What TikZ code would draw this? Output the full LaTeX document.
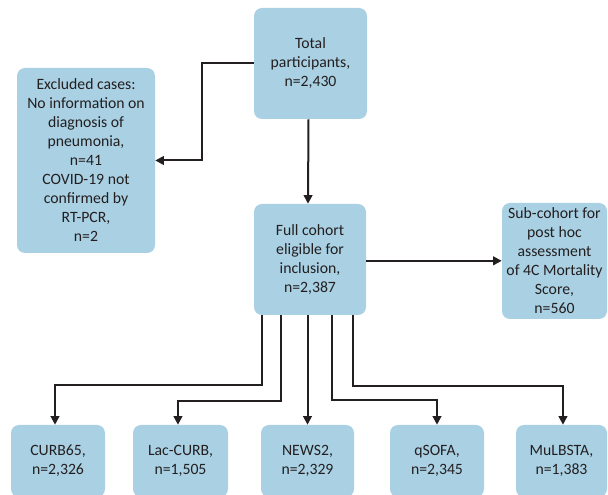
\documentclass[tikz,border=0pt]{standalone}
\usepackage{fontspec}
\setmainfont{Carlito}
\usetikzlibrary{arrows.meta,calc}
\definecolor{boxblue}{RGB}{169,208,227}
\definecolor{ink}{RGB}{35,31,32}
\begin{document}
\begin{tikzpicture}[x=0.75pt,y=-0.75pt,
  box/.style={fill=boxblue,draw=none,rounded corners=6pt,align=center,inner sep=0pt,
    text=ink,font=\fontsize{11.8pt}{14.25pt}\selectfont},
  arr/.style={draw=ink,line width=1.5pt,-{Triangle[length=6.5pt,width=6.5pt]}}]
\useasboundingbox (0,0) rectangle (608,495);
\clip (0,0) rectangle (608,495);
\node[box,minimum width=84.75pt,minimum height=83.25pt] (total) at (310.5,63.5) {Total\\participants,\\n=2,430};
\node[box,minimum width=103.5pt,minimum height=138.75pt] (excl) at (86,160.5) {Excluded cases:\\No information on\\diagnosis of\\pneumonia,\\n=41\\COVID-19 not\\confirmed by\\RT-PCR,\\n=2};
\node[box,minimum width=84pt,minimum height=83.25pt] (full) at (310,259.5) {Full cohort\\eligible for\\inclusion,\\n=2,387};
\node[box,minimum width=78.75pt,minimum height=87pt] (sub) at (554.5,261) {Sub-cohort for\\post hoc\\assessment\\of 4C Mortality\\Score,\\n=560};
\node[box,minimum width=70.5pt,minimum height=54pt] (curb) at (58,461) {CURB65,\\n=2,326};
\node[box,minimum width=71.25pt,minimum height=54pt] (lac) at (180.5,461) {Lac-CURB,\\n=1,505};
\node[box,minimum width=69.75pt,minimum height=54pt] (news) at (307.5,461) {NEWS2,\\n=2,329};
\node[box,minimum width=70.5pt,minimum height=54pt] (qsofa) at (437,461) {qSOFA,\\n=2,345};
\node[box,minimum width=68.25pt,minimum height=54pt] (mul) at (561.5,461) {MuLBSTA,\\n=1,383};
\draw[arr] ([yshift=0.4pt]total.west) -- ++(-52,0) |- (excl.east);
\draw[arr] ([xshift=-1.5pt]total.south) -- ([xshift=-1.5pt]full.north);
\draw[arr] ([yshift=-1pt]full.east) -- ([yshift=-1pt]full.east -| sub.west);
\draw[arr] ([xshift=6pt]full.south west) -- ++(0,70) -| ([xshift=-2.25pt]curb.north);
\draw[arr] ([xshift=20.25pt]full.south west) -- ++(0,86) -| ([xshift=-1.9pt]lac.north);
\draw[arr] (news.north |- full.south) -- (news.north);
\draw[arr] ([xshift=58.5pt]full.south west) -- ++(0,85) -| (qsofa.north);
\draw[arr] ([xshift=74.25pt]full.south west) -- ++(0,71) -| ([xshift=1.1pt]mul.north);
\end{tikzpicture}
\end{document}
